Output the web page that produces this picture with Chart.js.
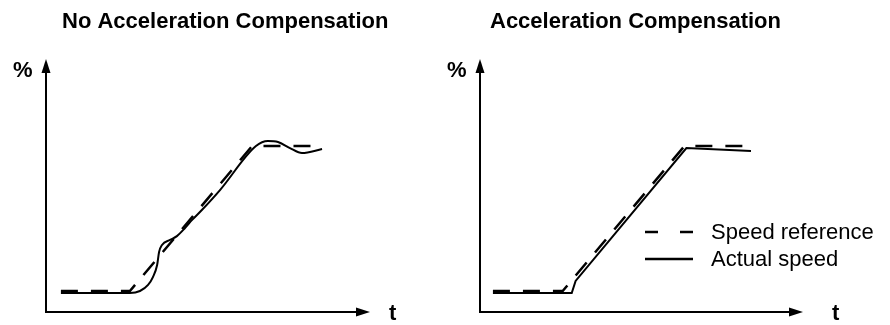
<!DOCTYPE html>
<html><head><meta charset="utf-8">
<script src="https://cdn.jsdelivr.net/npm/chart.js@4.4.0/dist/chart.umd.min.js"></script>
<style>
html,body{margin:0;padding:0;background:#fff;}
#wrap{position:relative;width:890px;height:325px;overflow:hidden;}
.pane{position:absolute;top:0;width:445px;height:325px;}
</style></head><body>
<div id="wrap">
<div class="pane" style="left:0"><canvas id="c1" width="445" height="325"></canvas></div>
<div class="pane" style="left:445px"><canvas id="c2" width="445" height="325"></canvas></div>
</div>
<script>
// ---- text ----
const panelTitles = ['No Acceleration Compensation', 'Acceleration Compensation'];
const yAxisLabel = '%';
const xAxisLabel = 't';
const seriesNames = ['Speed reference', 'Actual speed'];

// ---- left panel: no acceleration compensation (time units 0-100, % 0-100) ----
const refTimeNoComp = [4.6, 25.9, 63.6, 84.6];
const refValNoComp  = [8.3, 8.3, 65.6, 65.6];
const actTimeNoComp = [4.6, 25.9, 29.0, 31.5, 33.0, 34.3, 34.9, 35.8, 38.3, 40.4, 42.9, 45.1, 48.1, 53.7, 64.8, 68.5, 71.6, 75.3, 79.0, 85.2];
const actValNoComp  = [7.5, 7.5, 8.3, 10.7, 13.8, 18.6, 23.7, 26.5, 28.5, 30.0, 33.2, 36.4, 40.3, 48.2, 65.6, 67.6, 67.2, 64.8, 62.8, 64.4];

// ---- right panel: acceleration compensation ----
const refTimeComp = [4.0, 25.6, 63.3, 84.3];
const refValComp  = [8.3, 8.3, 65.6, 65.6];
const actTimeComp = [4.0, 28.4, 29.6, 63.9, 83.9];
const actValComp  = [7.5, 7.5, 12.3, 64.8, 63.6];

const FONT = "'Liberation Sans', Arial, Helvetica, sans-serif";

function pts(xs, ys){ return xs.map((x,i)=>({x:x, y:ys[i]})); }

const decor = {
  id: 'decor',
  afterDraw(chart, args, o) {
    const ctx = chart.ctx, a = chart.chartArea;
    ctx.save();
    ctx.strokeStyle = '#000'; ctx.fillStyle = '#000';
    ctx.lineWidth = 2; ctx.setLineDash([]);
    // axes
    ctx.beginPath();
    ctx.moveTo(a.left, a.top + 10);
    ctx.lineTo(a.left, a.bottom);
    ctx.lineTo(a.right - 10, a.bottom);
    ctx.stroke();
    // arrow heads
    ctx.beginPath();
    ctx.moveTo(a.left, a.top);
    ctx.lineTo(a.left - 4.5, a.top + 14);
    ctx.lineTo(a.left + 4.5, a.top + 14);
    ctx.closePath(); ctx.fill();
    ctx.beginPath();
    ctx.moveTo(a.right, a.bottom);
    ctx.lineTo(a.right - 14, a.bottom - 4.5);
    ctx.lineTo(a.right - 14, a.bottom + 4.5);
    ctx.closePath(); ctx.fill();
    // labels
    ctx.font = 'bold 22px ' + FONT;
    ctx.textBaseline = 'alphabetic';
    ctx.textAlign = 'left';
    ctx.fillText(o.title, o.titleX, 28);
    ctx.fillText(yAxisLabel, a.left - 33, 77);
    ctx.fillText(xAxisLabel, a.right + o.tGap, 320);
    // legend
    if (o.legend) {
      const ds = chart.data.datasets;
      const lx = o.legendX, ly = [232, 259];
      ctx.font = '22px ' + FONT;
      ctx.textBaseline = 'middle';
      ds.forEach((d, i) => {
        ctx.beginPath();
        ctx.lineWidth = 2.5;
        ctx.setLineDash(d.borderDash && d.borderDash.length ? [13, 22] : []);
        ctx.moveTo(lx, ly[i]);
        ctx.lineTo(lx + 48, ly[i]);
        ctx.stroke();
        ctx.setLineDash([]);
        ctx.fillText(d.label, lx + 66, ly[i] + 1);
      });
    }
    ctx.restore();
  }
};

function makeChart(id, refT, refV, actT, actV, opts) {
  return new Chart(document.getElementById(id), {
    type: 'line',
    data: {
      datasets: [
        { label: seriesNames[0], data: pts(refT, refV), borderColor: '#000', borderWidth: 2.5,
          borderDash: [17, 13], pointRadius: 0, tension: 0, fill: false },
        { label: seriesNames[1], data: pts(actT, actV), borderColor: '#000', borderWidth: 2,
          pointRadius: 0, cubicInterpolationMode: opts.smooth ? 'monotone' : 'default', tension: 0, fill: false }
      ]
    },
    options: {
      responsive: false, animation: false, devicePixelRatio: 1,
      layout: { padding: { left: opts.padLeft, right: opts.padRight, top: 59, bottom: 13 } },
      scales: {
        x: { type: 'linear', min: 0, max: 100, display: false },
        y: { type: 'linear', min: 0, max: 100, display: false }
      },
      plugins: {
        legend: { display: false }, title: { display: false }, tooltip: { enabled: false },
        decor: opts
      }
    },
    plugins: [decor]
  });
}

makeChart('c1', refTimeNoComp, refValNoComp, actTimeNoComp, actValNoComp,
  { padLeft: 46, padRight: 75, title: panelTitles[0], titleX: 62, tGap: 19, legend: false, smooth: true });
makeChart('c2', refTimeComp, refValComp, actTimeComp, actValComp,
  { padLeft: 35, padRight: 87, title: panelTitles[1], titleX: 45, tGap: 29, legend: true, legendX: 200, smooth: false });
</script>
</body></html>
